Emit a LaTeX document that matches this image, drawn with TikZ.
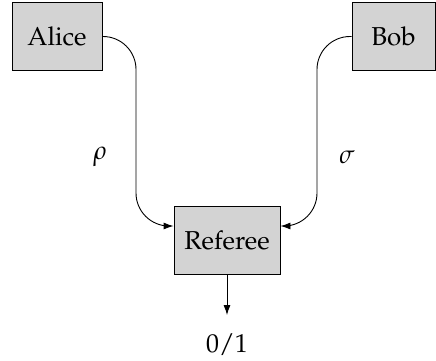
\documentclass[tikz,border=0pt]{standalone}
\usepackage[T1]{fontenc}
\usepackage{mathpazo}
\usetikzlibrary{arrows.meta}
\definecolor{boxfill}{RGB}{211,211,211}
\tikzset{
  party/.style={draw=black, line width=0.9bp, fill=boxfill, inner sep=0pt,
    minimum height=68bp, font=\fontsize{26}{30}\selectfont},
  wire/.style={line width=0.9bp, rounded corners=33bp,
    -{Latex[length=10bp,width=7bp]}},
  lbl/.style={font=\fontsize{26}{30}\selectfont}
}
\begin{document}
\begin{tikzpicture}[x=1bp, y=-1bp]
  \useasboundingbox (0,0) rectangle (436,360);
  % the three parties
  \node[party, minimum width=90bp] (alice) at (57,36.5) {Alice};
  \node[party, minimum width=83bp] (bob) at (393.5,36.5) {Bob};
  \node[party, minimum width=106bp] (ref) at (227,240) {Referee};
  % outcome
  \node[lbl, inner sep=0pt, text depth=0pt, anchor=base] (out) at (227,352) {0/1};
  % messages sent to the referee
  \draw[wire] (alice.east) -| (136,130) |- ([yshift=14bp]ref.west);
  \draw[wire] (bob.west) -| (317,130) |- ([yshift=14bp]ref.east);
  \draw[line width=0.9bp, -{Latex[length=10bp,width=7bp]}] (ref.south) -- ([yshift=18bp]out.north);
  % state labels
  \node[lbl] (rho) at (100,157) {$\rho$};
  \node[lbl] (sigma) at (347,157) {$\sigma$};
\end{tikzpicture}
\end{document}
